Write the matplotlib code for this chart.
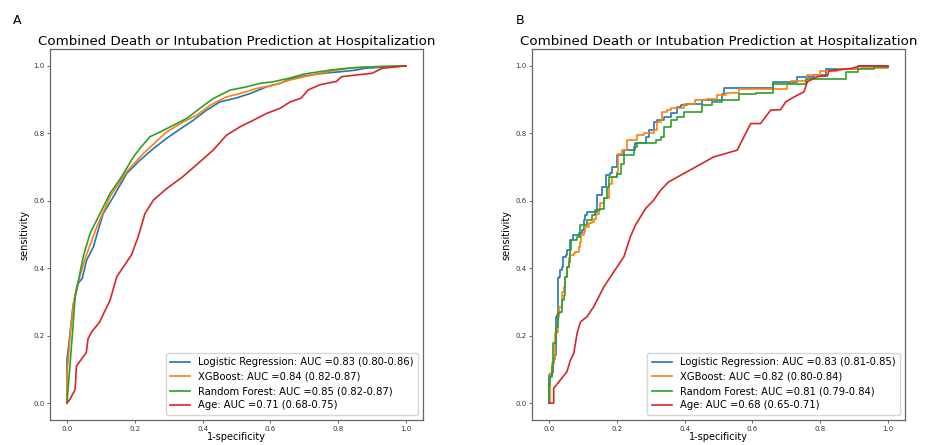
import matplotlib
matplotlib.use("Agg")
import matplotlib.pyplot as plt

# ---- data ----
title = "Combined Death or Intubation Prediction at Hospitalization"
model_names = ["Logistic Regression", "XGBoost", "Random Forest", "Age"]
colors = ["tab:blue", "tab:orange", "tab:green", "tab:red"]

auc_a = ["0.83 (0.80-0.86)", "0.84 (0.82-0.87)", "0.85 (0.82-0.87)", "0.71 (0.68-0.75)"]
auc_b = ["0.83 (0.81-0.85)", "0.82 (0.80-0.84)", "0.81 (0.79-0.84)", "0.68 (0.65-0.71)"]

# panel A (smooth curves)
lr_a_fpr = [0, 0, 0.005, 0.018, 0.033, 0.045, 0.058, 0.078, 0.092, 0.107, 0.137, 0.176, 0.215,
            0.255, 0.294, 0.343, 0.373, 0.412, 0.451, 0.5, 0.54, 0.589, 0.628, 0.658, 0.7, 0.756,
            0.8, 0.85, 0.88, 0.95, 1.0]
lr_a_tpr = [0, 0.13, 0.17, 0.29, 0.355, 0.37, 0.424, 0.463, 0.513, 0.562, 0.612, 0.681, 0.72,
            0.755, 0.785, 0.819, 0.839, 0.869, 0.893, 0.905, 0.918, 0.938, 0.948, 0.961, 0.97, 0.978,
            0.982, 0.987, 0.993, 0.997, 1.0]
xgb_a_fpr = [0, 0, 0.01, 0.02, 0.029, 0.054, 0.088, 0.127, 0.176, 0.225, 0.294, 0.343, 0.383,
             0.422, 0.47, 0.51, 0.559, 0.609, 0.658, 0.7, 0.746, 0.8, 0.83, 0.9, 1.0]
xgb_a_tpr = [0, 0.08, 0.21, 0.30, 0.345, 0.43, 0.523, 0.612, 0.686, 0.74, 0.804, 0.834, 0.854,
             0.883, 0.908, 0.918, 0.933, 0.943, 0.958, 0.968, 0.978, 0.988, 0.993, 0.997, 1.0]
rf_a_fpr = [0, 0.004, 0.018, 0.024, 0.048, 0.068, 0.088, 0.127, 0.161, 0.196, 0.215, 0.245, 0.275,
            0.314, 0.353, 0.392, 0.431, 0.481, 0.53, 0.569, 0.609, 0.658, 0.7, 0.78, 0.85, 0.92, 1.0]
rf_a_tpr = [0, 0.05, 0.23, 0.315, 0.434, 0.503, 0.543, 0.622, 0.671, 0.73, 0.755, 0.79, 0.804,
            0.824, 0.844, 0.874, 0.903, 0.928, 0.938, 0.948, 0.953, 0.964, 0.976, 0.988, 0.995, 0.998, 1.0]
age_a_fpr = [0, 0.009, 0.024, 0.028, 0.057, 0.062, 0.072, 0.096, 0.127, 0.147, 0.19, 0.21, 0.23,
             0.255, 0.294, 0.34, 0.387, 0.431, 0.47, 0.51, 0.55, 0.589, 0.628, 0.658, 0.69, 0.712,
             0.746, 0.795, 0.81, 0.854, 0.90, 0.93, 1.0]
age_a_tpr = [0, 0.012, 0.04, 0.11, 0.15, 0.19, 0.21, 0.24, 0.305, 0.375, 0.439, 0.493, 0.562,
             0.602, 0.636, 0.67, 0.711, 0.75, 0.794, 0.819, 0.839, 0.859, 0.874, 0.893, 0.904, 0.929,
             0.944, 0.954, 0.968, 0.973, 0.978, 0.993, 1.0]

# panel B (staircase curves, value after each jump)
lr_b_fpr = [0, 0, 0.009, 0.012, 0.016, 0.019, 0.021, 0.024, 0.027, 0.031, 0.033, 0.038, 0.040,
            0.051, 0.053, 0.061, 0.063, 0.071, 0.088, 0.097, 0.102, 0.107, 0.112, 0.142, 0.157,
            0.167, 0.181, 0.186, 0.20, 0.22, 0.255, 0.285, 0.295, 0.31, 0.32, 0.339, 0.359, 0.378,
            0.388, 0.408, 0.452, 0.511, 0.516, 0.66, 0.732, 0.782, 0.816, 0.91, 1.0]
lr_b_tpr = [0, 0.083, 0.088, 0.123, 0.132, 0.142, 0.256, 0.261, 0.37, 0.374, 0.394, 0.404, 0.434,
            0.439, 0.454, 0.463, 0.483, 0.498, 0.503, 0.513, 0.542, 0.557, 0.567, 0.617, 0.641,
            0.676, 0.681, 0.70, 0.735, 0.75, 0.77, 0.79, 0.81, 0.834, 0.839, 0.849, 0.859, 0.878,
            0.883, 0.888, 0.898, 0.916, 0.933, 0.951, 0.967, 0.972, 0.992, 0.999, 1.0]
xgb_b_fpr = [0, 0.002, 0.002, 0.009, 0.014, 0.017, 0.024, 0.026, 0.031, 0.038, 0.043, 0.048, 0.053,
             0.058, 0.063, 0.073, 0.078, 0.088, 0.093, 0.095, 0.102, 0.107, 0.117, 0.127, 0.132,
             0.14, 0.147, 0.152, 0.162, 0.177, 0.186, 0.2, 0.205, 0.215, 0.23, 0.26, 0.28, 0.31,
             0.32, 0.329, 0.334, 0.349, 0.359, 0.398, 0.432, 0.467, 0.496, 0.521, 0.56, 0.703,
             0.713, 0.762, 0.80, 0.85, 0.92, 1.0]
xgb_b_tpr = [0, 0.053, 0.088, 0.118, 0.137, 0.207, 0.211, 0.256, 0.286, 0.33, 0.345, 0.375, 0.404,
             0.429, 0.439, 0.444, 0.449, 0.463, 0.478, 0.498, 0.508, 0.523, 0.533, 0.538, 0.547,
             0.562, 0.577, 0.592, 0.607, 0.651, 0.67, 0.686, 0.74, 0.75, 0.78, 0.795, 0.80, 0.81,
             0.834, 0.839, 0.864, 0.869, 0.874, 0.888, 0.898, 0.903, 0.913, 0.92, 0.93, 0.945,
             0.955, 0.972, 0.985, 0.992, 0.994, 1.0]
rf_b_fpr = [0, 0, 0.004, 0.009, 0.011, 0.022, 0.026, 0.033, 0.038, 0.043, 0.048, 0.053, 0.058,
            0.063, 0.065, 0.078, 0.083, 0.091, 0.093, 0.112, 0.127, 0.137, 0.152, 0.162, 0.172,
            0.177, 0.2, 0.211, 0.22, 0.25, 0.26, 0.315, 0.329, 0.339, 0.359, 0.378, 0.398, 0.452,
            0.482, 0.511, 0.56, 0.61, 0.66, 0.757, 0.875, 0.91, 0.96, 1.0]
rf_b_tpr = [0, 0.053, 0.078, 0.108, 0.177, 0.226, 0.266, 0.271, 0.305, 0.32, 0.375, 0.404, 0.419,
            0.454, 0.483, 0.485, 0.493, 0.503, 0.528, 0.543, 0.557, 0.572, 0.577, 0.607, 0.641,
            0.671, 0.68, 0.71, 0.735, 0.76, 0.77, 0.78, 0.79, 0.82, 0.839, 0.849, 0.864, 0.883,
            0.893, 0.898, 0.918, 0.92, 0.945, 0.962, 0.982, 0.992, 0.997, 1.0]
age_b_fpr = [0, 0.014, 0.014, 0.053, 0.063, 0.073, 0.083, 0.093, 0.112, 0.132, 0.162, 0.201, 0.221,
             0.24, 0.255, 0.285, 0.309, 0.329, 0.353, 0.398, 0.486, 0.555, 0.595, 0.624, 0.654,
             0.683, 0.698, 0.723, 0.752, 0.762, 0.792, 0.821, 0.826, 0.89, 0.919, 1.0]
age_b_tpr = [0, 0, 0.044, 0.093, 0.127, 0.147, 0.207, 0.241, 0.256, 0.286, 0.345, 0.404, 0.434,
             0.493, 0.528, 0.577, 0.602, 0.631, 0.656, 0.681, 0.73, 0.75, 0.829, 0.829, 0.869,
             0.87, 0.893, 0.908, 0.923, 0.953, 0.968, 0.97, 0.985, 0.992, 1.0, 1.0]

curves_a = [(lr_a_fpr, lr_a_tpr), (xgb_a_fpr, xgb_a_tpr), (rf_a_fpr, rf_a_tpr), (age_a_fpr, age_a_tpr)]
curves_b = [(lr_b_fpr, lr_b_tpr), (xgb_b_fpr, xgb_b_tpr), (rf_b_fpr, rf_b_tpr), (age_b_fpr, age_b_tpr)]

fig = plt.figure(figsize=(9.25, 4.45), dpi=100)
ax_a = fig.add_axes([50 / 925, 1 - 420 / 445, 373 / 925, 371 / 445])
ax_b = fig.add_axes([532 / 925, 1 - 420 / 445, 373 / 925, 371 / 445])


def draw_panel(ax, curves, aucs, stepped):
    for i, (fpr, tpr) in enumerate(curves):
        label = model_names[i] + ": AUC =" + aucs[i]
        # the age curve is a plain line, the model curves in B are staircases
        if stepped and i < 3:
            ax.plot(fpr, tpr, color=colors[i], lw=1.2, drawstyle="steps-post", label=label)
        else:
            ax.plot(fpr, tpr, color=colors[i], lw=1.2, label=label)
    ax.set_title(title, fontsize=9.6, pad=3)
    ax.set_xlabel("1-specificity", fontsize=7, labelpad=0)
    ax.set_ylabel("sensitivity", fontsize=7, labelpad=3)
    ax.set_xticks([0, 0.2, 0.4, 0.6, 0.8, 1.0])
    ax.set_yticks([0, 0.2, 0.4, 0.6, 0.8, 1.0])
    ax.tick_params(labelsize=5, length=2, width=0.6, pad=2, color="#555555", labelcolor="#333333")
    for sp in ax.spines.values():
        sp.set_color("#666666")
        sp.set_linewidth(0.9)
    ax.set_xlim(-0.05, 1.05)
    ax.set_ylim(-0.05, 1.05)
    leg = ax.legend(loc="lower right", fontsize=7.2, handlelength=2.0, borderpad=0.45,
                    labelspacing=0.45, handletextpad=0.8, borderaxespad=0.5)
    leg.get_frame().set_edgecolor("#cccccc")


draw_panel(ax_a, curves_a, auc_a, False)
draw_panel(ax_b, curves_b, auc_b, True)

fig.text(17 / 925, 1 - 20 / 445, "A", fontsize=9, ha="center", va="center")
fig.text(520 / 925, 1 - 20 / 445, "B", fontsize=9, ha="center", va="center")

fig.savefig("out.png", dpi=100)
